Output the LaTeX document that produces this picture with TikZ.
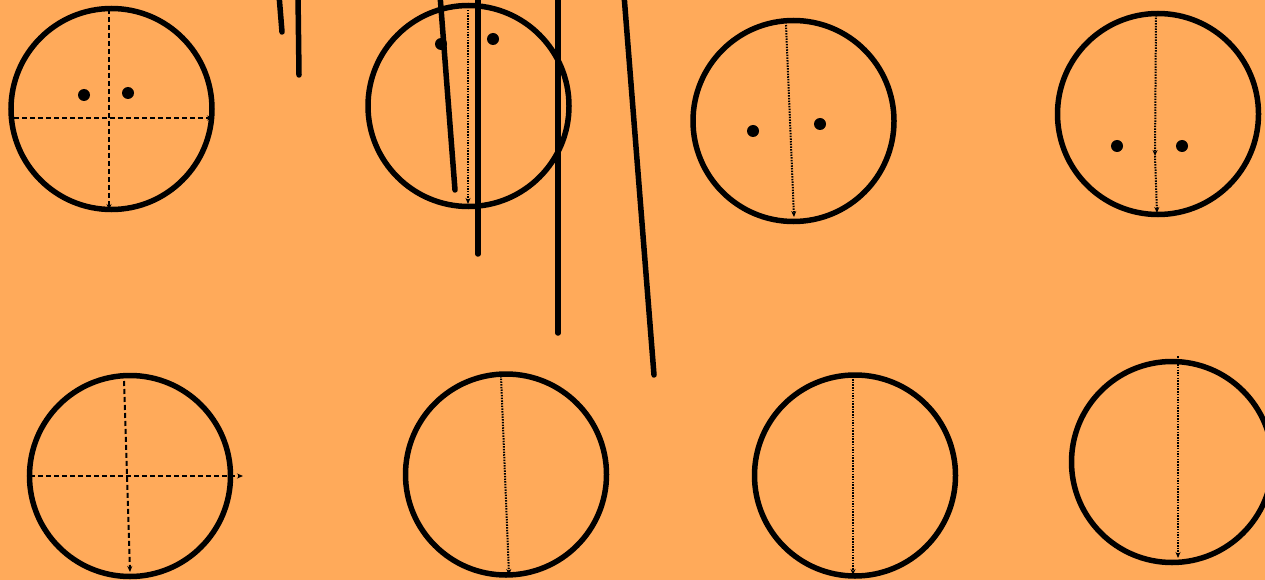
\documentclass[tikz,border=0pt]{standalone}
\usetikzlibrary{arrows.meta}
\definecolor{bg}{RGB}{255,170,90}
\tikzset{
  ring/.style={circle,draw=black,line width=5.5pt,minimum size=201pt,inner sep=0pt},
  spot/.style={circle,fill=black,minimum size=12pt,inner sep=0pt},
  dashline/.style={line width=2pt,dash pattern=on 5pt off 3pt,-{Stealth[length=6pt,width=5pt]}},
  dotline/.style={line width=2pt,dash pattern=on 1.5pt off 1.2pt,-{Stealth[length=6pt,width=5pt]}},
  stroke/.style={line width=5.5pt,line cap=round}
}
\begin{document}
\begin{tikzpicture}[x=1pt,y=-1pt]
\useasboundingbox (0,0) rectangle (1265,580);
\clip (0,0) rectangle (1265,580);
\fill[bg] (0,0) rectangle (1265,580);
% rings
\node[ring] (c1) at (111.5,109) {};
\node[ring] (c2) at (468.5,106) {};
\node[ring] (c3) at (793.5,121) {};
\node[ring] (c4) at (1158,114) {};
\node[ring] (c5) at (130,476) {};
\node[ring] (c6) at (506,474.5) {};
\node[ring] (c7) at (855,475.5) {};
\node[ring] (c8) at (1172,462) {};
% spots
\node[spot] (d1) at (84,95) {};
\node[spot] (d2) at (128,93) {};
\node[spot] (d3) at (441,44) {};
\node[spot] (d4) at (493,39) {};
\node[spot] (d5) at (753,131) {};
\node[spot] (d6) at (820,124) {};
\node[spot] (d7) at (1117,146) {};
\node[spot] (d8) at (1182,146) {};
% circle 1 axes
\coordinate (a1s) at (14,118); \coordinate (a1e) at (213,118);
\coordinate (b1s) at (109,9); \coordinate (b1e) at (109,210);
\draw[dashline] (a1s) -- (a1e);
\draw[dashline] (b1s) -- (b1e);
% circle 2
\coordinate (a2s) at (468,10); \coordinate (a2e) at (468,204);
\draw[dotline] (a2s) -- (a2e);
% circle 3
\coordinate (a3s) at (786,25); \coordinate (a3e) at (794,217);
\draw[dotline] (a3s) -- (a3e);
% circle 4
\coordinate (a4s) at (1156,15); \coordinate (a4m) at (1155,156); \coordinate (a4e) at (1157,213);
\draw[dotline] (a4s) -- (a4m);
\draw[dotline] (a4m) -- (a4e);
% circle 5
\coordinate (a5s) at (30,476); \coordinate (a5e) at (243,476);
\coordinate (b5s) at (124,381); \coordinate (b5e) at (130,572);
\draw[dashline] (a5s) -- (a5e);
\draw[dashline] (b5s) -- (b5e);
% circle 6
\coordinate (a6s) at (501,376); \coordinate (a6e) at (509,575);
\draw[dotline] (a6s) -- (a6e);
% circle 7
\coordinate (a7s) at (853,379); \coordinate (a7e) at (853,575);
\draw[dotline] (a7s) -- (a7e);
% circle 8
\coordinate (a8s) at (1178,356); \coordinate (a8e) at (1178,558);
\draw[dotline] (a8s) -- (a8e);
% strokes
\coordinate (s1a) at (279,-5); \coordinate (s1b) at (282,32);
\coordinate (s2a) at (298,-5); \coordinate (s2b) at (299,75);
\coordinate (s3a) at (440,-5); \coordinate (s3b) at (455,190);
\coordinate (s4a) at (478,-5); \coordinate (s4b) at (478,254);
\coordinate (s5a) at (558,-5); \coordinate (s5b) at (558,333);
\coordinate (s6a) at (624,-5); \coordinate (s6b) at (654,375);
\draw[stroke] (s1a) -- (s1b);
\draw[stroke] (s2a) -- (s2b);
\draw[stroke] (s3a) -- (s3b);
\draw[stroke] (s4a) -- (s4b);
\draw[stroke] (s5a) -- (s5b);
\draw[stroke] (s6a) -- (s6b);
\end{tikzpicture}
\end{document}
